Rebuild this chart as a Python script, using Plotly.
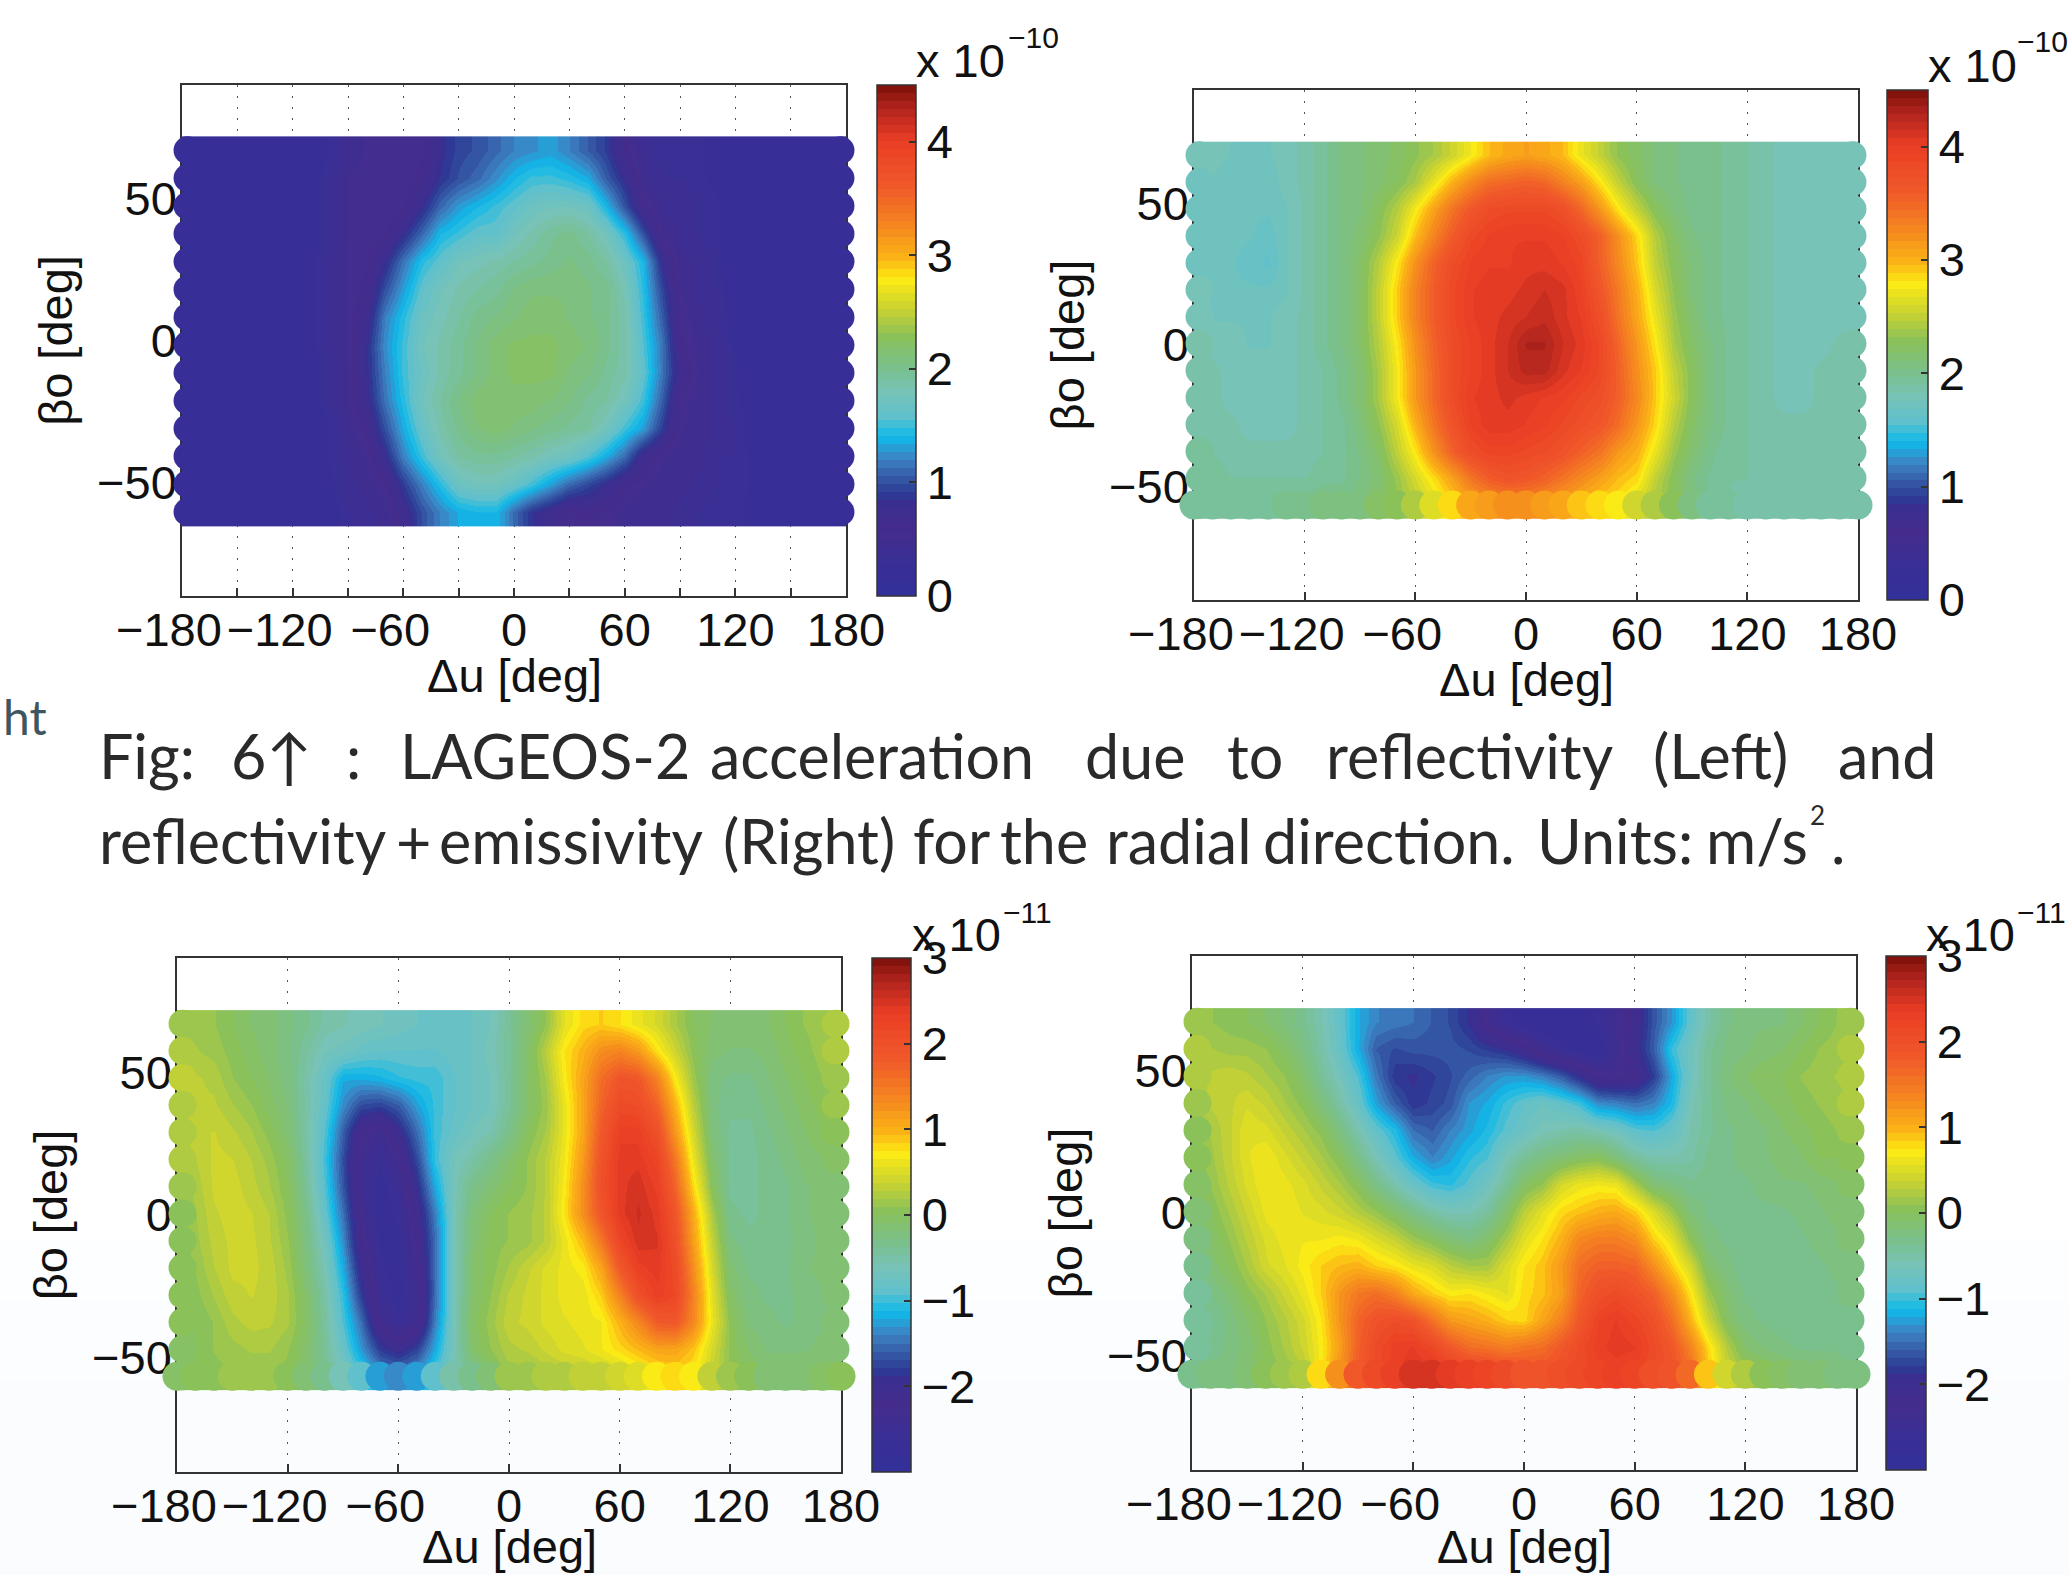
import numpy as np
import plotly.graph_objects as go

U = list(range(-180, 190, 10))
RIM_U = [-177, 177]
BO_LEFT_TOP = [67, 57.2, 47.4, 37.6, 27.8, 18, 8.2, -1.6, -11.4, -21.2, -31, -40.8, -50.6, -60.4]
BO = [67, 57.5, 48, 38.5, 29, 19.5, 10, 0.5, -9, -18.5, -28, -37.5, -47, -56.5]
B15 = [.15] * 7

REFLECT_RADIAL = [
    [.15]*8 + [.3,.45,.5,.5,.5,.55, .8,.95,1.0,1.1,1.2, 1.25,1.3,1.2,1.05,.9, .6,.4,.3,.3,.3,.25] + B15,
    [.15]*7+[.2] + [.35,.5,.5,.5,.5,.6, .85,1.0,1.1,1.25,1.4, 1.5,1.5,1.45,1.35,1.05, .8,.45,.35,.35,.3,.25] + B15,
    [.15]*7+[.2] + [.35,.5,.5,.5,.55,.8, 1.1,1.3,1.4,1.5,1.6, 1.7,1.75,1.75,1.7,1.4, 1.0,.6,.4,.4,.35,.3] + B15,
    [.15]*7+[.2] + [.35,.5,.5,.55,.8,1.1, 1.4,1.5,1.6,1.6,1.75, 1.85,1.95,2.0,1.9,1.75, 1.45,1.0,.5,.4,.35,.3] + B15,
    [.15]*7+[.25] + [.4,.5,.55,.8,1.15,1.45, 1.6,1.75,1.8,1.85,1.9, 1.95,2.0,2.05,2.0,1.9, 1.7,1.4,.8,.45,.4,.3] + B15,
    [.15]*7+[.25] + [.4,.5,.6,1.0,1.3,1.6, 1.75,1.85,1.9,1.95,2.05, 2.1,2.1,2.1,2.05,2.0, 1.8,1.45,.95,.5,.4,.35] + B15,
    [.15]*7+[.25] + [.4,.5,.7,1.2,1.45,1.7, 1.8,1.9,2.0,2.05,2.1, 2.15,2.15,2.1,2.05,2.0, 1.85,1.5,1.05,.55,.45,.35] + [.2,.15,.15,.15,.15,.15,.15],
    [.15]*7+[.25] + [.4,.5,.8,1.25,1.5,1.75, 1.85,1.95,2.05,2.15,2.2, 2.2,2.2,2.15,2.1,2.0, 1.85,1.55,1.15,.6,.45,.4] + [.25,.15,.15,.15,.15,.15,.15],
    [.15]*7+[.2] + [.35,.5,.8,1.2,1.5,1.7, 1.85,1.95,2.05,2.15,2.2, 2.2,2.2,2.1,2.05,1.95, 1.85,1.6,1.15,.7,.5,.4] + [.3,.15,.15,.15,.15,.15,.15],
    [.15]*7+[.2] + [.35,.5,.75,1.15,1.45,1.75, 1.9,2.05,2.15,2.15,2.15, 2.15,2.1,2.05,1.95,1.9, 1.75,1.5,1.05,.55,.45,.4] + [.3,.2,.15,.15,.15,.15,.15],
    [.15]*8 + [.3,.45,.6,1.0,1.35,1.65, 1.85,2.0,2.1,2.15,2.1, 2.05,2.0,1.95,1.9,1.75, 1.5,1.3,.9,.5,.45,.4] + [.35,.2,.15,.15,.15,.15,.15],
    [.15]*8 + [.3,.4,.5,.8,1.2,1.5, 1.75,1.9,1.95,1.95,1.9, 1.85,1.75,1.7,1.55,1.35, 1.1,.7,.5,.45,.45,.35] + [.35,.25,.15,.15,.15,.15,.15],
    [.15]*8 + [.25,.4,.45,.55,.9,1.2, 1.45,1.7,1.75,1.75,1.65, 1.5,1.3,1.1,.95,.8, .6,.5,.45,.45,.4,.35] + [.35,.25,.15,.15,.15,.15,.15],
    [.15]*8 + [.2,.35,.4,.45,.7,1.0, 1.2,1.35,1.4,1.4,1.1, .85,.7,.55,.6,.55, .45,.45,.45,.4,.35,.3] + [.3,.25,.15,.15,.15,.15,.15],
]

EMISS_RADIAL = [
    [1.8,1.8,1.75,1.75,1.75,1.8,1.85,1.95, 2.05,2.1,2.15,2.2,2.3,2.4, 2.55,2.75,2.95,3.05,3.1, 3.05,2.95,2.7,2.5,2.3, 2.2,2.1,2.05,2.0,2.0,1.95, 1.9,1.85,1.8,1.8,1.8,1.8,1.8],
    [1.75,1.75,1.7,1.7,1.7,1.8,1.85,1.95, 2.05,2.1,2.15,2.25,2.4,2.7, 3.0,3.25,3.45,3.5,3.55, 3.5,3.3,3.1,2.8,2.5, 2.25,2.1,2.05,2.0,2.0,1.95, 1.9,1.85,1.8,1.8,1.8,1.8,1.8],
    [1.75,1.7,1.7,1.7,1.7,1.75,1.85,1.95, 2.05,2.1,2.25,2.45,2.75,3.1, 3.4,3.65,3.8,3.85,3.85, 3.85,3.75,3.5,3.15,2.8, 2.5,2.25,2.1,2.0,2.0,1.95, 1.9,1.85,1.8,1.8,1.8,1.8,1.8],
    [1.75,1.7,1.7,1.7,1.65,1.75,1.85,1.95, 2.05,2.15,2.3,2.55,2.95,3.3, 3.6,3.85,3.95,4.0,4.0, 4.0,3.95,3.8,3.55,3.2, 2.85,2.45,2.2,2.05,2.0,1.95, 1.9,1.85,1.8,1.8,1.8,1.8,1.8],
    [1.75,1.7,1.7,1.65,1.6,1.75,1.85,1.95, 2.05,2.2,2.45,2.8,3.2,3.55, 3.8,3.95,4.0,4.0,4.05, 4.05,4.0,3.9,3.55,3.25, 2.9,2.5,2.25,2.1,2.0,1.95, 1.9,1.85,1.8,1.8,1.8,1.8,1.8],
    [1.8,1.75,1.7,1.7,1.7,1.75,1.85,1.95, 2.05,2.2,2.5,2.9,3.3,3.6, 3.85,4.0,4.05,4.05,4.1, 4.15,4.1,3.95,3.65,3.35, 3.0,2.6,2.3,2.1,2.0,1.95, 1.9,1.85,1.8,1.8,1.8,1.8,1.8],
    [1.8,1.75,1.75,1.75,1.75,1.8,1.85,1.95, 2.05,2.2,2.5,2.9,3.3,3.6, 3.85,4.0,4.05,4.1,4.15, 4.2,4.1,4.0,3.75,3.4, 3.05,2.7,2.35,2.15,2.0,1.95, 1.9,1.85,1.8,1.8,1.8,1.8,1.8],
    [1.85,1.8,1.8,1.75,1.75,1.8,1.85,1.95, 2.05,2.2,2.45,2.8,3.2,3.55, 3.8,3.95,4.05,4.15,4.3, 4.3,4.15,4.05,3.85,3.5, 3.15,2.8,2.4,2.2,2.05,1.95, 1.9,1.85,1.8,1.8,1.8,1.85,1.85],
    [1.85,1.85,1.8,1.8,1.8,1.8,1.85,1.9, 2.0,2.15,2.4,2.75,3.15,3.5, 3.8,3.95,4.05,4.15,4.25, 4.25,4.1,4.0,3.85,3.55, 3.2,2.9,2.5,2.25,2.05,1.95, 1.9,1.85,1.8,1.8,1.85,1.85,1.85],
    [1.85,1.85,1.8,1.8,1.8,1.8,1.85,1.9, 2.0,2.15,2.4,2.75,3.15,3.5, 3.8,4.0,4.05,4.1,4.05, 4.0,3.95,3.85,3.75,3.55, 3.25,2.9,2.55,2.25,2.05,1.95, 1.9,1.85,1.8,1.8,1.85,1.85,1.85],
    [1.85,1.85,1.85,1.8,1.8,1.8,1.85,1.9, 1.95,2.1,2.3,2.6,3.0,3.4, 3.7,3.95,4.05,4.05,4.0, 3.95,3.85,3.75,3.65,3.45, 3.15,2.85,2.45,2.2,2.05,1.95, 1.9,1.85,1.85,1.85,1.85,1.85,1.85],
    [1.95,1.9,1.85,1.85,1.85,1.85,1.85,1.9, 1.95,2.05,2.2,2.5,2.8,3.2, 3.55,3.8,3.9,3.9,3.85, 3.8,3.7,3.55,3.4,3.15, 3.0,2.7,2.35,2.15,2.0,1.9, 1.9,1.85,1.85,1.85,1.85,1.85,1.85],
    [1.95,1.95,1.9,1.9,1.9,1.9,1.9,1.95, 1.95,2.05,2.15,2.35,2.6,2.85, 3.1,3.4,3.6,3.7,3.65, 3.55,3.4,3.25,3.1,2.95, 2.85,2.5,2.25,2.05,1.95,1.9, 1.9,1.85,1.85,1.85,1.85,1.85,1.85],
    [1.9,1.95,1.95,1.95,1.95,2.0,2.0,2.05, 2.05,2.1,2.2,2.3,2.45,2.65, 2.85,3.05,3.15,3.2,3.2, 3.15,3.05,2.95,2.85,2.8, 2.6,2.4,2.25,2.1,1.95,1.9, 1.85,1.85,1.85,1.85,1.85,1.85,1.85],
]

REFLECT_ALONG = [
    [.15,.15,.1,0,-.1,-.15,-.25,-.35, -.5,-.55,-.6,-.65,-.7,-.75, -.8,-.8,-.75,-.65,-.4, -.15,.1,.55,.8,.85, .75,.6,.45,.2,0,-.1, -.1,-.1,-.1,0,.1,.15,.2],
    [.25,.2,.15,.05,-.05,-.15,-.25,-.45, -.65,-.7,-.8,-.85,-.85,-.85, -.85,-.8,-.75,-.6,-.4, -.1,.3,.75,1.0,1.3, 1.4,1.2,.75,.4,.05,-.15, -.2,-.2,-.15,-.05,.05,.15,.2],
    [.3,.3,.25,.1,0,-.1,-.25,-.5, -.8,-1.2,-1.2,-1.15,-1.05,-1.0, -1.0,-.85,-.75,-.65,-.4, -.1,.2,.7,1.1,1.6, 1.9,1.85,1.4,.7,.15,-.25, -.3,-.3,-.2,-.1,0,.1,.15],
    [.25,.3,.3,.2,.1,-.05,-.2,-.5, -.85,-1.35,-1.7,-1.75,-1.6,-1.25, -1.0,-.85,-.75,-.65,-.4, -.1,.15,.6,1.1,1.7, 2.1,2.05,1.7,1.0,.3,-.25, -.35,-.35,-.25,-.15,-.05,.05,.1],
    [.2,.35,.38,.3,.2,.05,-.15,-.5, -.95,-1.6,-2.2,-2.4,-2.0,-1.5, -1.0,-.8,-.65,-.55,-.3, 0,.2,.6,1.1,1.85, 2.3,2.3,2.0,1.2,.45,-.2, -.4,-.4,-.3,-.2,-.1,0,.05],
    [.2,.28,.4,.38,.28,.15,-.05,-.45, -1.0,-1.7,-2.4,-2.6,-2.3,-1.7, -1.0,-.65,-.5,-.3,-.1, .1,.3,.65,1.2,1.95, 2.4,2.4,2.2,1.5,.6,-.1, -.4,-.4,-.35,-.25,-.15,-.1,-.05],
    [.1,.22,.4,.42,.32,.2,0,-.4, -.95,-1.65,-2.4,-2.7,-2.5,-1.9, -1.2,-.6,-.3,-.15,0, .1,.3,.7,1.3,2.0, 2.4,2.5,2.3,1.7,.8,0, -.4,-.4,-.35,-.3,-.2,-.15,-.1],
    [.05,.18,.36,.42,.38,.28,.05,-.3, -.85,-1.5,-2.3,-2.7,-2.6,-2.1, -1.4,-.6,-.2,0,.1, .15,.3,.75,1.3,1.9, 2.4,2.55,2.4,1.9,1.05,.2, -.35,-.4,-.35,-.3,-.2,-.15,-.1],
    [0,.15,.32,.4,.4,.3,.1,-.25, -.7,-1.35,-2.2,-2.65,-2.65,-2.2, -1.5,-.6,-.15,.05,.1, .15,.3,.6,.95,1.5, 2.2,2.5,2.45,2.0,1.15,.35, -.25,-.35,-.35,-.3,-.25,-.15,-.1],
    [0,.1,.28,.4,.4,.34,.15,-.2, -.6,-1.2,-2.0,-2.6,-2.7,-2.3, -1.5,-.6,-.1,.05,.2, .35,.5,.6,.7,1.1, 1.85,2.3,2.4,2.1,1.3,.45, -.15,-.3,-.3,-.3,-.2,-.15,-.1],
    [0,.05,.2,.34,.38,.34,.2,-.1, -.5,-1.05,-1.8,-2.5,-2.7,-2.4, -1.5,-.6,-.1,.1,.3, .4,.5,.6,.6,.85, 1.4,2.0,2.3,2.15,1.4,.55, -.05,-.25,-.3,-.3,-.25,-.2,-.15],
    [0,0,.1,.25,.32,.3,.2,-.05, -.45,-.95,-1.5,-2.3,-2.6,-2.35, -1.4,-.6,-.05,.15,.35, .4,.5,.55,.6,.65, 1.0,1.35,1.8,1.85,1.35,.6, .05,-.2,-.25,-.3,-.25,-.2,-.15],
    [-.05,0,.1,.15,.2,.2,.1,-.1, -.4,-.8,-1.3,-1.8,-2.0,-1.75, -1.2,-.6,-.1,.1,.25, .3,.4,.5,.55,.65, .8,.95,1.1,1.1,.9,.45, .05,-.1,-.2,-.2,-.2,-.15,-.1],
    [-.05,0,.05,.1,.1,.1,.05,-.1, -.35,-.6,-.9,-1.3,-1.35,-1.25, -.9,-.55,-.35,-.1,.15, .1,.2,.25,.3,.35, .4,.55,.7,.8,.7,.35, .1,0,-.1,-.1,-.1,-.05,0],
]

EMISS_ALONG = [
    [.1,.1,.05,0,-.1,-.2,-.35,-.55, -.85,-1.2,-1.4,-1.45,-1.5,-1.6, -1.7,-1.9,-2.3,-2.6,-2.75, -2.8,-2.8,-2.75,-2.6,-2.35, -2.1,-1.65,-1.3,-.85,-.5,-.3, -.2,-.2,-.2,-.1,0,.1,.15],
    [.2,.2,.15,.15,.1,-.05,-.25,-.5, -.8,-1.2,-1.6,-1.7,-1.65,-1.65, -1.65,-1.7,-1.8,-1.9,-2.1, -2.4,-2.6,-2.75,-2.8,-2.4, -2.0,-1.6,-1.0,-.7,-.4,-.25, -.2,-.15,-.1,0,.1,.15,.2],
    [.25,.3,.35,.3,.2,.1,-.1,-.4, -.65,-.95,-1.45,-1.85,-1.9,-1.8, -1.7,-1.55,-1.4,-1.3,-1.3, -1.4,-1.6,-1.9,-2.25,-2.3, -2.2,-1.8,-1.2,-.7,-.4,-.2, -.1,0,0,.1,.15,.2,.25],
    [.15,.3,.35,.45,.35,.2,.05,-.2, -.5,-.8,-1.25,-1.6,-1.85,-1.75, -1.65,-1.3,-1.2,-1.0,-.85, -.75,-.85,-1.0,-1.35,-1.4, -1.5,-1.4,-1.1,-.6,-.4,-.25, -.2,-.1,-.05,.05,.1,.15,.2],
    [.05,.2,.35,.55,.5,.35,.2,.05, -.25,-.55,-.85,-1.1,-1.5,-1.6, -1.4,-1.25,-1.1,-.9,-.75, -.6,-.55,-.5,-.6,-.7, -.9,-.95,-.8,-.55,-.4,-.3, -.25,-.2,-.1,-.05,.05,.1,.1],
    [0,.15,.35,.55,.65,.5,.35,.2, 0,-.3,-.6,-.9,-1.2,-1.4, -1.25,-1.05,-.95,-.6,-.4, -.25,-.15,-.05,0,-.2, -.45,-.55,-.55,-.5,-.35,-.3, -.25,-.2,-.15,-.1,0,0,0],
    [-.05,.1,.3,.5,.65,.6,.5,.35, .2,0,-.3,-.55,-.8,-1.0, -1.05,-.9,-.7,-.4,-.05, .1,.45,.6,.65,.6, .2,-.15,-.25,-.35,-.3,-.3, -.3,-.25,-.2,-.2,-.15,-.1,-.05],
    [-.1,0,.2,.4,.6,.65,.55,.5, .4,.25,.1,-.1,-.3,-.5, -.6,-.6,-.45,-.1,.3, .55,.8,.9,1.0,1.05, .85,.5,.15,-.2,-.3,-.3, -.3,-.3,-.3,-.25,-.2,-.15,-.1],
    [-.2,-.1,.1,.3,.5,.6,.65,.65, .7,.65,.5,.35,.15,0, -.15,-.25,-.1,.2,.55, .75,1.0,1.35,1.45,1.45, 1.3,.85,.55,.05,-.25,-.3, -.35,-.35,-.35,-.3,-.25,-.2,-.15],
    [-.3,-.15,0,.2,.45,.55,.7,.85, .95,1.0,.85,.75,.6,.5, .3,.2,.2,.5,.75, .9,1.2,1.6,1.75,1.75, 1.7,1.3,.85,.45,-.1,-.25, -.35,-.35,-.35,-.3,-.3,-.25,-.2],
    [-.4,-.3,-.15,.05,.2,.4,.6,.85, 1.25,1.5,1.6,1.4,1.05,.85, .7,.75,.65,.55,.8, .9,1.15,1.7,2.0,2.1, 1.95,1.75,1.3,.75,.15,-.15, -.3,-.3,-.35,-.35,-.3,-.3,-.25],
    [-.45,-.4,-.25,-.1,.1,.25,.45,.75, 1.25,1.7,1.95,2.05,1.95,1.55, 1.2,1.1,1.0,.85,.8, 1.1,1.4,1.85,2.25,2.35, 2.2,2.0,1.6,1.0,.4,-.05, -.25,-.3,-.35,-.35,-.35,-.3,-.3],
    [-.4,-.35,-.25,-.15,.05,.2,.4,.7, 1.15,1.75,2.1,2.3,2.35,2.15, 1.85,1.6,1.55,1.45,1.55, 1.6,1.85,2.1,2.3,2.4, 2.35,2.1,1.85,1.4,.8,.25, -.1,-.2,-.25,-.3,-.3,-.3,-.3],
    [-.3,-.25,-.2,-.1,0,.1,.25,.75, 1.3,1.8,2.1,2.3,2.45,2.5, 2.4,2.3,2.2,2.1,1.95, 1.95,2.0,2.1,2.2,2.25, 2.2,2.05,1.9,1.6,.9,.4, .2,.05,-.05,-.1,-.15,-.2,-.2],
]

NB = "\u00a0\u00a0"
X_TICKS = [-180, -120, -60, 0, 60, 120, 180]
X_TICK_TEXT = ["\u2212180" + NB, "\u2212120" + NB, "\u221260" + NB, "0", "60", "120", "180"]
X_TICKS_FINE = list(range(-180, 210, 30))
X_TICK_TEXT_FINE = ["\u2212180" + NB, "", "\u2212120" + NB, "", "\u221260" + NB, "", "0", "", "60", "", "120", "", "180"]
Y_TICKS = [-50, 0, 50]
Y_TICK_TEXT = ["\u221250", "0", "50"]
CB_TICKS_TOP = [0, 1, 2, 3, 4]
CB_TICKS_BOTTOM = [-2, -1, 0, 1, 2, 3]
CB_TEXT_BOTTOM = ["\u22122", "\u22121", "0", "1", "2", "3"]

W, H = 2069, 1575
FONT = "Liberation Sans, Arial, sans-serif"
CAP = "Lato, Open Sans, sans-serif"
TS = 47

stops = [(0, "#33309a"), (.07, "#3a2f95"), (.13, "#452c8c"), (.18, "#3a2f90"), (.2, "#2c3c96"), (.222, "#33509f"),
         (.27, "#3c85c4"), (.31, "#0fb9ea"), (.35, "#5fc0cc"), (.40, "#79c3b6"), (.444, "#79c08e"), (.51, "#8cc157"),
         (.56, "#c7d233"), (.62, "#fdeb14"), (.66, "#fbb515"), (.72, "#f58a1f"), (.80, "#f0592a"), (.89, "#ea3e25"),
         (.95, "#b5261e"), (1, "#7c0f0a")]
sp = [s[0] for s in stops]
rgb = np.array([[int(s[1][i:i + 2], 16) for i in (1, 3, 5)] for s in stops], float)
N = 64
cs = []
for k in range(N):
    f = (k + .5) / N
    c = [int(round(np.interp(f, sp, rgb[:, j]))) for j in range(3)]
    col = f"rgb({c[0]},{c[1]},{c[2]})"
    cs += [[k / N, col], [(k + 1) / N, col]]

panels = [
    dict(z=REFLECT_RADIAL, rows=BO_LEFT_TOP, box=(182, 846, 85, 596), cb=(877, 39), rng=(0, 4.5), tv=CB_TICKS_TOP,
         tt=[str(v) for v in CB_TICKS_TOP], xt=(X_TICKS_FINE, X_TICK_TEXT_FINE), scallop=False, title_gap=79,
         exp="x 10", expxy=(916, 61), sup="\u221210", supxy=(1008, 38)),
    dict(z=EMISS_RADIAL, rows=BO, box=(1194, 1858, 90, 600), cb=(1887, 41), rng=(0, 4.5), tv=CB_TICKS_TOP,
         tt=[str(v) for v in CB_TICKS_TOP], xt=(X_TICKS, X_TICK_TEXT), scallop=True, title_gap=79,
         exp="x 10", expxy=(1928, 66), sup="\u221210", supxy=(2017, 42)),
    dict(z=REFLECT_ALONG, rows=BO, box=(177, 841, 958, 1472), cb=(872, 39), rng=(-3, 3), tv=CB_TICKS_BOTTOM,
         tt=CB_TEXT_BOTTOM, xt=(X_TICKS, X_TICK_TEXT), scallop=True, title_gap=74,
         exp="x 10", expxy=(912, 934), sup="\u221211", supxy=(1003, 912)),
    dict(z=EMISS_ALONG, rows=BO, box=(1192, 1856, 956, 1470), cb=(1886, 40), rng=(-3, 3), tv=CB_TICKS_BOTTOM,
         tt=CB_TEXT_BOTTOM, xt=(X_TICKS, X_TICK_TEXT), scallop=True, title_gap=76,
         exp="x 10", expxy=(1926, 934), sup="\u221211", supxy=(2017, 912)),
]

fig = go.Figure()
annots, layout_axes = [], {}


def ann(x, y, text, size, color="#111", font=FONT, xanchor="left"):
    annots.append(dict(xref="paper", yref="paper", x=x / W, y=1 - y / H, text=text, showarrow=False,
                       xanchor=xanchor, yanchor="middle", font=dict(size=size, color=color, family=font),
                       borderpad=0, borderwidth=0))


for i, p in enumerate(panels):
    n = "" if i == 0 else str(i + 1)
    xa, ya = "x" + n, "y" + n
    l, r, t, b = p["box"]
    z = np.array(p["z"], float)
    assert z.shape == (14, 37), (i, z.shape)
    lo, hi = p["rng"]
    fig.add_trace(go.Heatmap(
        x=U, y=p["rows"], z=z, zmin=lo, zmax=hi, colorscale=cs, zsmooth="best", xaxis=xa, yaxis=ya,
        colorbar=dict(x=p["cb"][0] / W, xanchor="left", xref="paper", xpad=0, ypad=0, thickness=p["cb"][1],
                      thicknessmode="pixels", len=(b - t) / H, lenmode="fraction", y=1 - (t + b) / 2 / H,
                      yanchor="middle", yref="paper", outlinecolor="#333", outlinewidth=1.5, ticks="inside",
                      ticklen=7, tickcolor="#333", tickwidth=1.5, tickvals=p["tv"], ticktext=p["tt"],
                      tickfont=dict(size=TS, family=FONT, color="#111"))))
    # rims of the point cloud: the outermost samples drawn as round dots
    ex, ey, ec, es = [], [], [], []
    for r_i, y in enumerate(p["rows"]):
        for c_i, rim in ((0, RIM_U[0]), (36, RIM_U[1])):
            ex.append(rim); ey.append(y); ec.append(z[r_i, c_i]); es.append(28)
    if p["scallop"]:
        for c_i, x in enumerate(U):
            ex.append(x); ey.append(p["rows"][-1]); ec.append(z[-1, c_i]); es.append(29)
    fig.add_trace(go.Scatter(
        x=ex, y=ey, mode="markers", xaxis=xa, yaxis=ya, cliponaxis=False, showlegend=False, hoverinfo="skip",
        marker=dict(size=es, color=ec, cmin=lo, cmax=hi, colorscale=cs, line=dict(width=0), showscale=False,
                    opacity=1)))
    common = dict(showline=True, linecolor="#333", linewidth=1.5, ticks="inside", ticklen=8, tickcolor="#333",
                  tickwidth=1.5, mirror=True, layer="below traces", showgrid=True, gridcolor="#555", gridwidth=1,
                  griddash="2px,9px", zeroline=False, tickfont=dict(size=TS, family=FONT, color="#111"))
    layout_axes["xaxis" + n] = dict(common, domain=[l / W, r / W], range=[-180, 180], anchor=ya,
                                    tickvals=p["xt"][0], ticktext=p["xt"][1], tickangle=0, ticklabelstandoff=-8)
    layout_axes["yaxis" + n] = dict(common, domain=[1 - b / H, 1 - t / H], range=[-90, 90], anchor=xa,
                                    tickvals=Y_TICKS, ticktext=Y_TICK_TEXT, ticklabelstandoff=-6,
                                    title=dict(text="\u03b2o [deg]", font=dict(size=TS, family=FONT, color="#111"),
                                               standoff=10))
    ann((l + r) / 2, b + p["title_gap"], "\u0394u [deg]", TS, xanchor="center")
    ann(p["expxy"][0], p["expxy"][1], p["exp"], TS)
    ann(p["supxy"][0], p["supxy"][1], p["sup"], 30)

S = 2069 / 1568
LINE1 = [("Fig:", 75), ("6\u2191", 175), (":", 262), ("LAGEOS-2", 303), ("acceleration", 538), ("due", 822), ("to", 930),
         ("reflectivity", 1005), ("(Left)", 1253), ("and", 1393)]
LINE2 = [("reflectivity", 75), ("+", 300), ("emissivity", 333), ("(Right)", 548), ("for", 692), ("the", 758),
         ("radial", 838), ("direction.", 957), ("Units:", 1165), ("m/s", 1293), (".", 1388)]
CAPCOL = "#2a2a2a"
for w, x in LINE1:
    ann(x * S, 755, w, 61, CAPCOL, CAP)
for w, x in LINE2:
    ann(x * S, 840, w, 61, CAPCOL, CAP)
ann(1372 * S, 815, "2", 26, CAPCOL, CAP)
ann(3, 716, "ht", 48, "#3f5560", CAP)

shapes = [dict(type="rect", xref="paper", yref="paper", x0=0, x1=1, y0=1 - y1 / H, y1=1 - y0 / H, fillcolor=c,
               line=dict(width=0), layer="below")
          for y0, y1, c in [(1240, 1300, "#fdfeff"), (1300, 1380, "#fbfdff"), (1380, 1575, "#fafcfe")]]

fig.update_layout(width=W, height=H, margin=dict(l=0, r=0, t=0, b=0, autoexpand=False), paper_bgcolor="white",
                  plot_bgcolor="rgba(0,0,0,0)", showlegend=False, annotations=annots, shapes=shapes, **layout_axes)
fig.write_html("out.html", config={"displayModeBar": False},
               post_script="document.body.style.margin='0';document.body.style.overflow='hidden';")
